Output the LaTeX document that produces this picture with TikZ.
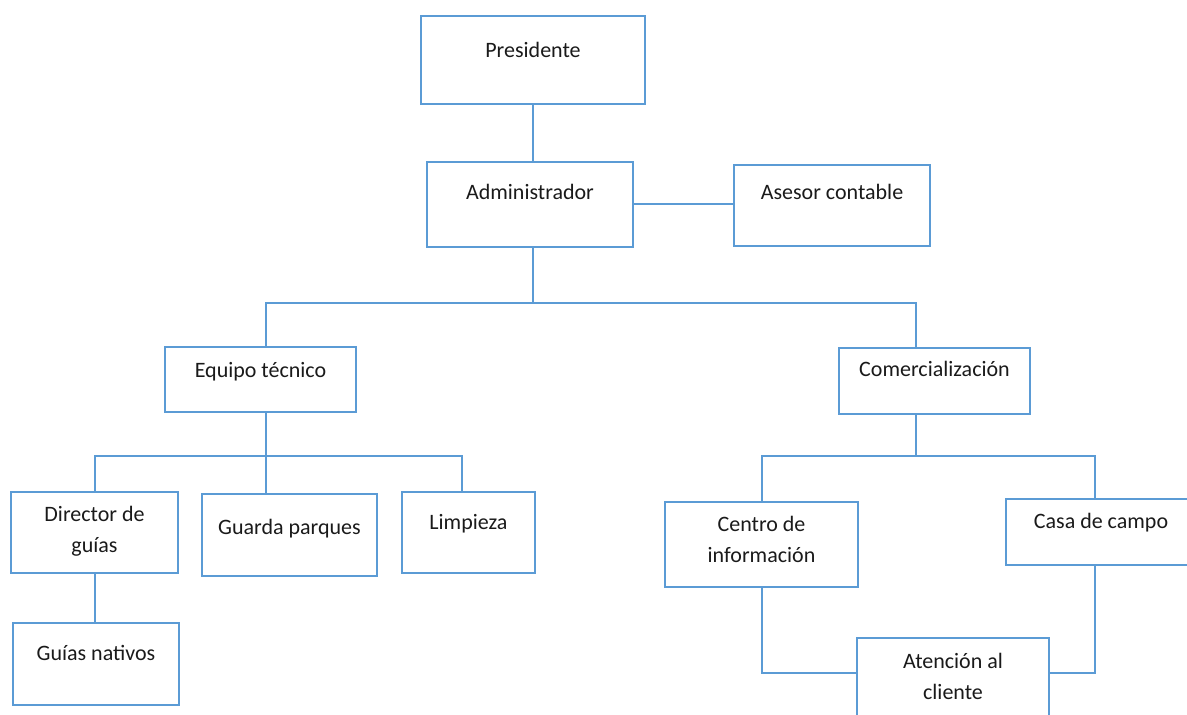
\documentclass[tikz,border=0pt]{standalone}
\usepackage{fontspec}
\setmainfont{Carlito}
\usetikzlibrary{positioning,calc}
\definecolor{LineBlue}{HTML}{5B9BD5}
\definecolor{DarkText}{HTML}{1A1A1A}
\tikzset{
  puesto/.style n args={3}{draw=LineBlue, line width=1pt, anchor=north west, inner sep=0pt, align=center,
    minimum width=#1, text height=#2, text depth=#3, text=DarkText, font=\fontsize{11}{15.5}\selectfont},
  conector/.style={draw=LineBlue, line width=1pt}
}
\begin{document}
\begin{tikzpicture}[x=0.5pt,y=-0.5pt]
\clip (0,0) rectangle (1187,715);
\node[puesto={112pt}{21pt}{23pt}] (pres) at (420,15) {Presidente};
\node[puesto={103pt}{19pt}{23.5pt}] (admin) at (426,161) {Administrador};
\node[puesto={98pt}{17.5pt}{23pt}] (asesor) at (733,164) {Asesor contable};
\node[puesto={95.5pt}{15.5pt}{17pt}] (equipo) at (164,346) {Equipo técnico};
\node[puesto={95.5pt}{14.5pt}{18.5pt}] (comer) at (838,347) {Comercialización};
\node[puesto={83.5pt}{30pt}{10.5pt}] (director) at (10,491) {Director de\\guías};
\node[puesto={87.5pt}{20pt}{21pt}] (guarda) at (201,493) {Guarda parques};
\node[puesto={66.5pt}{18.5pt}{22pt}] (limpieza) at (401,491) {Limpieza};
\node[puesto={83pt}{18.5pt}{22.5pt}] (nativos) at (12,622) {Guías nativos};
\node[puesto={96.5pt}{30pt}{12.5pt}] (centro) at (664,501) {Centro de\\información};
\node[puesto={95pt}{14.5pt}{18.5pt}] (casa) at (1005,498) {Casa de campo};
\node[puesto={96pt}{30.5pt}{14.5pt}] (atencion) at (856,637) {Atención al\\cliente};
\coordinate (busA) at (533,303);
\coordinate (busB) at (266,456);
\coordinate (busC) at (916,456);
\draw[conector] (pres.south) -- (pres.south |- admin.north);
\draw[conector] (admin.east) -- (admin.east -| asesor.west);
\draw[conector] (busA |- admin.south) -- (busA);
\draw[conector] (busB |- equipo.north) -- (busB |- busA) -- (busC |- busA) -- (busC |- comer.north);
\draw[conector] (busB |- equipo.south) -- (busB |- guarda.north);
\draw[conector] (director.north) |- ([xshift=-3.5pt]limpieza.north |- busB) -- ([xshift=-3.5pt]limpieza.north);
\draw[conector] (director.south) -- (director.south |- nativos.north);
\draw[conector] (busC |- comer.south) -- (busC);
\draw[conector] (centro.north) |- ([xshift=-3pt]casa.north |- busC) -- ([xshift=-3pt]casa.north);
\draw[conector] (centro.south) |- ([yshift=5pt]atencion.west);
\draw[conector] ([xshift=-3pt]casa.south) |- ([yshift=5pt]atencion.east);
\end{tikzpicture}
\end{document}
